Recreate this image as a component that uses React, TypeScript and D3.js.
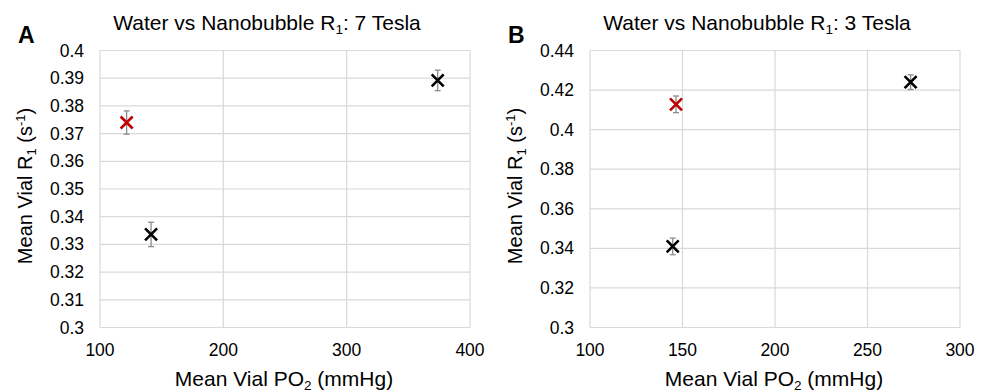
import React, { useRef, useEffect } from 'react'
import * as d3 from 'd3'

// Panel A: 7 Tesla
const aPO2 = [121.6, 141.4, 373.8]
const aR1 = [0.374, 0.3336, 0.3892]
const aErr = [0.0042, 0.0044, 0.0037]
const aGroup = ['nano', 'water', 'water']
const aXTicks = [100, 200, 300, 400]
const aYTicks = [0.3, 0.31, 0.32, 0.33, 0.34, 0.35, 0.36, 0.37, 0.38, 0.39, 0.4]

// Panel B: 3 Tesla
const bPO2 = [146.5, 144.7, 273.3]
const bR1 = [0.4128, 0.341, 0.424]
const bErr = [0.0042, 0.0042, 0.0037]
const bGroup = ['nano', 'water', 'water']
const bXTicks = [100, 150, 200, 250, 300]
const bYTicks = [0.3, 0.32, 0.34, 0.36, 0.38, 0.4, 0.42, 0.44]

const groupColor: Record<string, string> = { nano: '#c00000', water: '#000000' }

const FONT = '"Liberation Sans", Arial, sans-serif'

type PanelProps = {
  left: number
  letter: string
  tesla: string
  xs: number[]
  ys: number[]
  errs: number[]
  groups: string[]
  xTicks: number[]
  yTicks: number[]
}

const Panel = ({ left, letter, tesla, xs, ys, errs, groups, xTicks, yTicks }: PanelProps) => {
  const ref = useRef<SVGGElement>(null)
  const plot = { x0: left + 100, x1: left + 470, y0: 50.5, y1: 327.5 }

  useEffect(() => {
    const g = d3.select(ref.current)
    g.selectAll('*').remove()

    const x = d3.scaleLinear().domain(d3.extent(xTicks) as [number, number]).range([plot.x0, plot.x1])
    const y = d3.scaleLinear().domain(d3.extent(yTicks) as [number, number]).range([plot.y1, plot.y0])

    // gridlines
    g.append('g').selectAll('line').data(yTicks).join('line')
      .attr('x1', plot.x0).attr('x2', plot.x1)
      .attr('y1', d => y(d)).attr('y2', d => y(d))
      .attr('stroke', '#d9d9d9').attr('stroke-width', 1.2)
    g.append('g').selectAll('line').data(xTicks).join('line')
      .attr('y1', plot.y0).attr('y2', plot.y1)
      .attr('x1', d => x(d)).attr('x2', d => x(d))
      .attr('stroke', '#d9d9d9').attr('stroke-width', 1.2)

    // tick labels
    g.append('g').selectAll('text').data(yTicks).join('text')
      .attr('x', plot.x0 - 16).attr('y', d => y(d) + 6)
      .attr('text-anchor', 'end')
      .attr('font-size', 17.5).attr('font-family', FONT).attr('fill', '#000')
      .text(d => String(+d.toFixed(2)))
    g.append('g').selectAll('text').data(xTicks).join('text')
      .attr('x', d => x(d)).attr('y', 356)
      .attr('text-anchor', 'middle')
      .attr('font-size', 17.5).attr('font-family', FONT).attr('fill', '#000')
      .text(d => String(d))

    const idx = d3.range(xs.length)

    // error bars
    const eb = g.append('g').attr('stroke', '#8c8c8c').attr('stroke-width', 1.3)
    eb.selectAll('.v').data(idx).join('line').attr('class', 'v')
      .attr('x1', i => x(xs[i])).attr('x2', i => x(xs[i]))
      .attr('y1', i => y(ys[i] - errs[i])).attr('y2', i => y(ys[i] + errs[i]))
    eb.selectAll('.t').data(idx).join('line').attr('class', 't')
      .attr('x1', i => x(xs[i]) - 3).attr('x2', i => x(xs[i]) + 3)
      .attr('y1', i => y(ys[i] + errs[i])).attr('y2', i => y(ys[i] + errs[i]))
    eb.selectAll('.b').data(idx).join('line').attr('class', 'b')
      .attr('x1', i => x(xs[i]) - 3).attr('x2', i => x(xs[i]) + 3)
      .attr('y1', i => y(ys[i] - errs[i])).attr('y2', i => y(ys[i] - errs[i]))

    // x markers
    const r = 6
    g.append('g').selectAll('path').data(idx).join('path')
      .attr('d', i => {
        const cx = x(xs[i]), cy = y(ys[i])
        return `M${cx - r},${cy - r}L${cx + r},${cy + r}M${cx - r},${cy + r}L${cx + r},${cy - r}`
      })
      .attr('stroke', i => groupColor[groups[i]])
      .attr('stroke-width', 2.6)
      .attr('fill', 'none')
  }, [])

  const midY = 186

  return (
    <g fontFamily={FONT}>
      <text x={left + 18} y={43} fontSize={23} fontWeight="bold">{letter}</text>
      <text x={left + 267} y={30} fontSize={21} textAnchor="middle">
        Water vs Nanobubble R<tspan dy={4} fontSize={13.5}>1</tspan><tspan dy={-4}>: {tesla} Tesla</tspan>
      </text>
      <text x={left + 284} y={386} fontSize={21} textAnchor="middle">
        Mean Vial PO<tspan dy={3.5} fontSize={13.5}>2</tspan><tspan dy={-3.5}> (mmHg)</tspan>
      </text>
      <text transform={`translate(${left + 32},${midY}) rotate(-90)`} fontSize={20} textAnchor="middle">
        Mean Vial R<tspan dy={4} fontSize={13}>1</tspan><tspan dy={-4}> (s</tspan><tspan dy={-7} fontSize={13}>-1</tspan><tspan dy={7}>)</tspan>
      </text>
      <g ref={ref} />
    </g>
  )
}

export default function App() {
  return (
    <svg width={986} height={392} style={{ position: 'absolute', left: 0, top: 0, background: '#fff' }}>
      <rect width={986} height={392} fill="#fff" />
      <Panel left={0} letter="A" tesla="7" xs={aPO2} ys={aR1} errs={aErr} groups={aGroup} xTicks={aXTicks} yTicks={aYTicks} />
      <Panel left={490} letter="B" tesla="3" xs={bPO2} ys={bR1} errs={bErr} groups={bGroup} xTicks={bXTicks} yTicks={bYTicks} />
    </svg>
  )
}
